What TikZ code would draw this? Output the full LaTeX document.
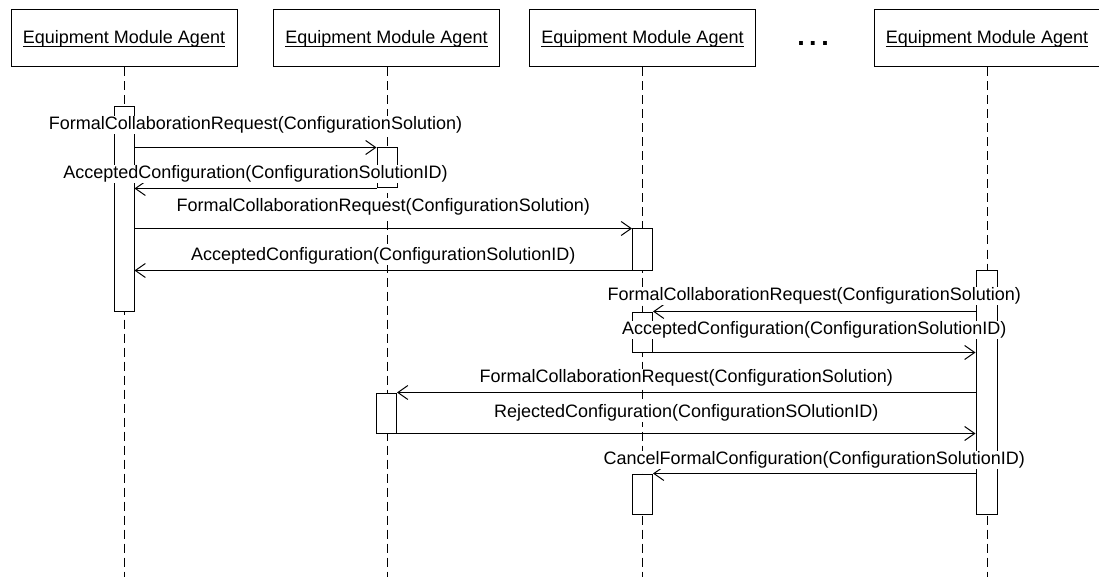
\documentclass[tikz,border=0pt]{standalone}
\usepackage{fontspec}
\setmainfont{Liberation Sans}
\usetikzlibrary{arrows.meta}
\newcommand{\ulagent}[1]{\setbox0\hbox{#1}\rlap{\rule[-3.4pt]{\wd0}{1pt}}\box0}
\begin{document}
\begin{tikzpicture}[x=1pt,y=-1pt, line width=1pt,
  every node/.style={font=\fontsize{18}{21}\selectfont},
  head/.style={draw, rectangle, minimum width=226pt, minimum height=57pt, inner sep=0pt},
  life/.style={dash pattern=on 9pt off 5pt},
  act/.style={draw, fill=white, minimum width=20pt, inner sep=0pt},
  msg/.style={-{Straight Barb[length=10pt,width=14pt]}},
  lbl/.style={fill=white, inner sep=0.6pt, anchor=base, pos=0.5}]
\useasboundingbox (0,0) rectangle (1099,577);

% heads
\node[head] (H1) at (124,38.5) {\ulagent{Equipment Module Agent}};
\node[head] (H2) at (386.5,38.5) {\ulagent{Equipment Module Agent}};
\node[head] (H3) at (642.5,38.5) {\ulagent{Equipment Module Agent}};
\node[head] (H4) at (987,38.5) {\ulagent{Equipment Module Agent}};
\node[anchor=base, font=\fontsize{27}{30}\selectfont\bfseries] (dots) at (813,46) {.\hspace{4.5pt}.\hspace{4.5pt}.};

% lifeline ends
\coordinate (E1) at (124,577);
\coordinate (E2) at (387,577);
\coordinate (E3) at (642.5,577);
\coordinate (E4) at (987,577);
\draw[life] (H1.south -| E1) -- (E1);
\draw[life] (H2.south -| E2) -- (E2);
\draw[life] (H3.south -| E3) -- (E3);
\draw[life] (H4.south -| E4) -- (E4);

% activations
\node[act, minimum height=204pt] (A1) at (124,209) {};
\node[act, minimum height=40pt] (A2) at (387,168) {};
\node[act, minimum height=41pt] (A3) at (642.5,249.5) {};
\node[act, minimum height=40pt] (A3b) at (642.5,332) {};
\node[act, minimum height=40pt] (A3c) at (642.5,494) {};
\node[act, minimum height=40pt] (A2b) at (386.5,413) {};
\node[act, minimum height=244pt, minimum width=21pt] (A4) at (986.5,392) {};

% messages
\draw[msg] (A1.east |- A2.north) -- (A2.north west)
  node[lbl, yshift=18pt] {FormalCollaborationRequest(ConfigurationSolution)};
\draw[msg] (A2.south west) -- (A1.east |- A2.south)
  node[lbl, yshift=10pt] {AcceptedConfiguration(ConfigurationSolutionID)};
\draw[msg] (A1.east |- A3.north) -- (A3.north west)
  node[lbl, yshift=17pt] {FormalCollaborationRequest(ConfigurationSolution)};
\draw[msg] (A3.south west) -- (A1.east |- A3.south)
  node[lbl, yshift=10pt] {AcceptedConfiguration(ConfigurationSolutionID)};
\draw[msg] (A4.west |- A3b.north) -- (A3b.north east)
  node[lbl, yshift=11pt] {FormalCollaborationRequest(ConfigurationSolution)};
\draw[msg] (A3b.south east) -- (A4.west |- A3b.south)
  node[lbl, yshift=18pt] {AcceptedConfiguration(ConfigurationSolutionID)};
\draw[msg] (A4.west |- A2b.north) -- (A2b.north east)
  node[lbl, yshift=10pt] {FormalCollaborationRequest(ConfigurationSolution)};
\draw[msg] (A2b.south east) -- (A4.west |- A2b.south)
  node[lbl, yshift=16pt] {RejectedConfiguration(ConfigurationSOlutionID)};
\draw[msg] (A4.west |- A3c.north) -- (A3c.north east)
  node[lbl, yshift=9pt] {CancelFormalConfiguration(ConfigurationSolutionID)};
\end{tikzpicture}
\end{document}
